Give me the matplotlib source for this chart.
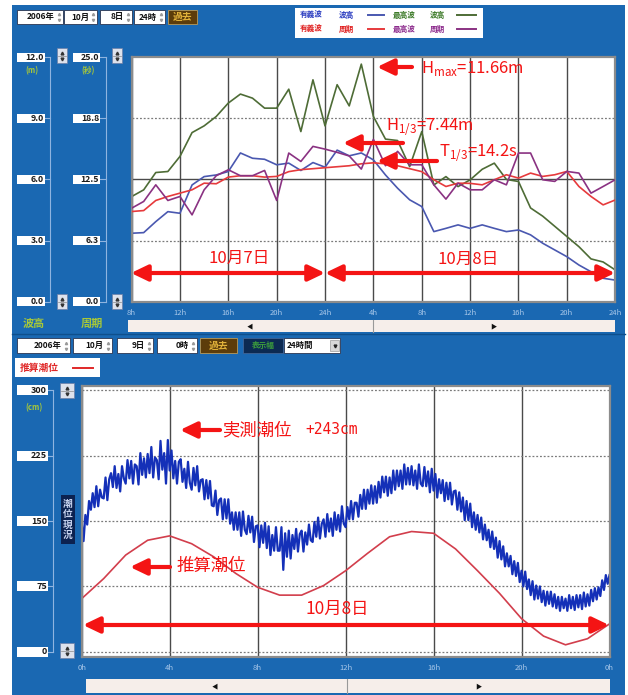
import numpy as np
import matplotlib
matplotlib.use("Agg")
import matplotlib.pyplot as plt
import matplotlib.transforms as mtransforms
from matplotlib.patches import Rectangle, FancyArrowPatch
from matplotlib.lines import Line2D

plt.rcParams['font.family'] = ['Noto Sans CJK JP', 'DejaVu Sans']

# ---------------- wave record: hourly, 10/7 08h -> 10/8 24h ----------------
wave_hours = list(range(41))
wave_tick_hours = list(range(0, 41, 4))
wave_tick_labels = ["8h", "12h", "16h", "20h", "24h", "4h", "8h", "12h", "16h", "20h", "24h"]

# maximum wave height (m)
h_max = [5.16, 5.49, 6.34, 6.39, 7.13, 8.30, 8.63, 9.09, 9.75, 10.19,
         9.99, 9.50, 9.50, 10.43, 8.35, 10.89, 8.63, 10.65, 9.61, 11.66,
         9.09, 7.98, 7.91, 6.63, 8.35, 5.73, 6.14, 5.65, 5.98, 6.50,
         6.80, 6.00, 5.90, 4.60, 4.20, 3.70, 3.20, 2.70, 2.10, 1.95, 1.56]
# significant wave height (m)
h_sig = [3.36, 3.39, 3.93, 4.42, 4.34, 5.73, 6.14, 6.22, 6.39, 7.30,
         7.04, 6.99, 6.72, 6.80, 6.44, 6.83, 6.60, 7.44, 7.16, 7.30,
         6.96, 6.22, 5.57, 5.00, 4.67, 3.44, 3.60, 3.77, 3.60, 3.77,
         3.60, 3.44, 3.52, 3.28, 2.87, 2.54, 2.21, 1.80, 1.47, 1.15, 1.06]
# significant wave period (s)
t_sig = [9.22, 9.32, 10.35, 10.76, 11.10, 11.44, 12.12, 12.06, 12.74, 12.88,
         12.88, 12.74, 12.81, 13.30, 13.50, 13.60, 13.70, 13.80, 13.90, 14.10,
         14.20, 14.10, 13.90, 13.60, 13.30, 12.47, 11.78, 12.12, 12.10, 11.95,
         12.47, 12.98, 12.64, 13.15, 12.81, 12.98, 13.32, 11.78, 10.76, 9.90, 10.40]
# period of the maximum wave (s)
t_max = [9.56, 10.25, 11.95, 10.35, 10.76, 8.88, 11.44, 12.88, 13.49, 12.88,
         12.88, 13.42, 10.35, 15.20, 14.34, 15.88, 15.60, 15.27, 14.90, 13.56,
         16.60, 13.90, 15.37, 14.00, 14.00, 11.95, 10.49, 12.12, 11.44, 11.44,
         12.47, 11.95, 15.20, 15.20, 12.47, 12.30, 13.32, 13.15, 11.10, 11.78, 12.47]

height_ticks = [0, 3, 6, 9, 12]
height_labels = ["0.0", "3.0", "6.0", "9.0", "12.0"]
period_ticks = [0, 6.25, 12.5, 18.75, 25]
period_labels = ["0.0", "6.3", "12.5", "18.8", "25.0"]

# ---------------- tide record, 10/8 ----------------
tide_hours = list(range(25))
tide_predicted = [61, 84, 111, 128, 133, 124, 109, 90, 74, 65, 65, 76, 93,
                  113, 132, 138, 136, 118, 93, 67, 38, 18, 8, 15, 32]
obs_step_minutes = 5
tide_observed = [
    148, 127, 157, 146, 173, 163, 182, 166, 190, 167, 186, 177,
    176, 200, 174, 198, 205, 189, 213, 188, 204, 184, 213, 199,
    193, 220, 199, 219, 193, 215, 213, 192, 228, 203, 222, 200,
    227, 205, 235, 200, 223, 220, 198, 242, 209, 228, 193, 243,
    208, 231, 199, 219, 193, 218, 221, 195, 210, 188, 218, 194,
    186, 211, 191, 213, 184, 197, 198, 175, 197, 176, 196, 168,
    167, 185, 157, 174, 176, 152, 175, 153, 175, 147, 160, 140,
    160, 140, 160, 133, 161, 140, 135, 156, 137, 155, 126, 144,
    145, 120, 145, 125, 148, 119, 144, 111, 134, 116, 143, 116,
    116, 143, 94, 136, 109, 139, 107, 134, 118, 141, 115, 135,
    139, 115, 137, 123, 146, 128, 126, 149, 132, 154, 130, 147,
    152, 132, 158, 138, 153, 133, 160, 140, 157, 138, 167, 147,
    143, 166, 152, 173, 152, 171, 171, 155, 180, 164, 186, 164,
    186, 170, 191, 170, 190, 171, 195, 177, 201, 183, 201, 179,
    200, 182, 208, 186, 208, 190, 208, 187, 215, 192, 211, 192,
    213, 191, 208, 187, 215, 193, 190, 212, 190, 207, 183, 210,
    185, 204, 177, 198, 182, 197, 173, 194, 175, 194, 169, 184,
    185, 163, 183, 161, 177, 151, 173, 151, 170, 143, 160, 140,
    157, 137, 154, 129, 146, 128, 140, 120, 138, 118, 131, 108,
    127, 106, 121, 98, 113, 98, 110, 89, 104, 87, 102, 80,
    93, 75, 92, 72, 83, 65, 81, 60, 76, 61, 75, 57,
    70, 53, 69, 55, 69, 52, 66, 50, 63, 47, 63, 50,
    61, 47, 65, 50, 63, 48, 65, 51, 65, 49, 68, 52,
    66, 53, 71, 58, 73, 60, 74, 64, 82, 71, 88, 78,
    88]
tide_tick_hours = [0, 4, 8, 12, 16, 20, 24]
tide_tick_labels = ["0h", "4h", "8h", "12h", "16h", "20h", "0h"]
level_ticks = [0, 75, 150, 225, 300]
level_labels = ["0", "75", "150", "225", "300"]

# ---------------- styling ----------------
W, H = 628, 695
PANEL = '#1a68b2'
TICKC = '#a9c8ea'
RED = '#f41414'
C_HSIG, C_HMAX, C_TSIG, C_TMAX = '#4a58b0', '#4e6c36', '#e63a3c', '#8a3282'
FIELD_TXT = '#111111'

fig = plt.figure(figsize=(W / 100, H / 100), dpi=100)
fig.patch.set_facecolor('white')
PX = mtransforms.Affine2D().scale(1.0 / W, -1.0 / H).translate(0, 1) + fig.transFigure


def box(x0, y0, x1, y1, fc, ec='none', lw=0.0, z=-1):
    fig.add_artist(Rectangle((x0, y0), x1 - x0, y1 - y0, transform=PX,
                             fc=fc, ec=ec, lw=lw, zorder=z))


def label(x, y, s, **kw):
    kw.setdefault('va', 'center')
    kw.setdefault('zorder', 5)
    return fig.text(x, y, s, transform=PX, **kw)


def seg(xs, ys, z=2, **kw):
    fig.add_artist(Line2D(xs, ys, transform=PX, zorder=z, **kw))


def arrow(x0, y0, x1, y1, both=False):
    style = '<|-|>' if both else '-|>'
    fig.add_artist(FancyArrowPatch(
        (x0, y0), (x1, y1), transform=PX,
        arrowstyle=f'{style},head_length=0.5,head_width=0.24',
        mutation_scale=20, lw=3, color=RED, shrinkA=0, shrinkB=0, zorder=10))


def spin(x0, y0, x1, y1):
    box(x0, y0, x1, y1, fc='#dde2ec', ec='#6d7fa6', lw=0.5, z=1)
    xm = (x0 + x1) / 2
    seg([xm], [y0 + (y1 - y0) * 0.3], z=3, marker='^', ms=2.0, color='#333', ls='none')
    seg([xm], [y0 + (y1 - y0) * 0.72], z=3, marker='v', ms=2.0, color='#333', ls='none')
    seg([x0 + 1, x1 - 1], [(y0 + y1) / 2] * 2, z=3, color='#8a8a8a', lw=0.5)


def field(x0, x1, y0, y1, s):
    box(x0, y0, x1, y1, fc='white', ec='#2a3550', lw=0.6, z=1)
    label(x1 - 8, (y0 + y1) / 2, s, ha='right', fontsize=6, fontweight='bold', color=FIELD_TXT)
    xm = x1 - 4
    seg([xm], [y0 + (y1 - y0) * 0.3], z=3, marker='^', ms=1.6, color='#999', ls='none')
    seg([xm], [y0 + (y1 - y0) * 0.72], z=3, marker='v', ms=1.6, color='#999', ls='none')


def button(x0, x1, y0, y1, s):
    box(x0, y0, x1, y1, fc='#5c3c0a', ec='#b89a5a', lw=0.6, z=1)
    label((x0 + x1) / 2, (y0 + y1) / 2, s, ha='center', fontsize=7,
          fontweight='bold', color='#e2b23a')


# panel backgrounds
box(12, 5, 625, 334, fc=PANEL)
box(12, 334, 625, 695, fc=PANEL)
seg([12, 625], [334, 334], z=-0.5, color='#0f4f8c', lw=1.0)

# ---------------- upper panel: waves ----------------
field(17, 63, 10, 24, "2006年")
field(64, 97, 10, 24, "10月")
field(100, 132, 10, 24, "8日")
field(134, 165, 10, 24, "24時")
button(168, 197, 10, 24, "過去")

# legend
box(295, 8, 483, 38, fc='white', z=1)
legend_rows = [
    (15, "有義波", "波高", C_HSIG, '#2a3cc0', "最高波", "波高", C_HMAX, '#3c7a28'),
    (29, "有義波", "周期", C_TSIG, '#e02020', "最高波", "周期", C_TMAX, '#8c2a8c'),
]
for y, a1, a2, lc1, tc1, b1, b2, lc2, tc2 in legend_rows:
    label(300, y, a1, fontsize=5.5, fontweight='bold', color=tc1)
    label(339, y, a2, fontsize=5.5, fontweight='bold', color=tc1)
    seg([368, 384], [y, y], z=3, color=lc1, lw=1.4)
    label(393, y, b1, fontsize=5.5, fontweight='bold', color=tc2)
    label(430, y, b2, fontsize=5.5, fontweight='bold', color=tc2)
    seg([457, 476], [y, y], z=3, color=lc2, lw=1.4)

ax_w = fig.add_axes([131.6 / W, 1 - 301.7 / H, (615.2 - 131.6) / W, (301.7 - 57.2) / H])
ax_w.set_facecolor('white')
ax_w.set_xlim(0, 40)
ax_w.set_ylim(0, 12)
ax_w.set_xticks(wave_tick_hours, wave_tick_labels)
ax_w.set_yticks([])
ax_w.tick_params(axis='x', length=0, pad=5, labelsize=5.5, labelcolor=TICKC)
ax_w.grid(axis='x', color='#4a4a4a', lw=1.0)
ax_w.axhline(6, color='#4a4a4a', lw=1.0)
for v in (3, 9):
    ax_w.axhline(v, color='#7a7a7a', lw=0.9, ls=(0, (1.5, 1.5)))
for s in ax_w.spines.values():
    s.set_color('#8c8c8c')
    s.set_linewidth(1.6)

ax_w.plot(wave_hours, h_sig, color=C_HSIG, lw=1.2)
ax_w.plot(wave_hours, h_max, color=C_HMAX, lw=1.2)
ax_p = ax_w.twinx()
ax_p.set_ylim(0, 25)
ax_p.set_yticks([])
for s in ax_p.spines.values():
    s.set_visible(False)
ax_p.plot(wave_hours, t_sig, color=C_TSIG, lw=1.2)
ax_p.plot(wave_hours, t_max, color=C_TMAX, lw=1.2)

# left scales (height / period)
def ypix(ax, v):
    return H - ax.transData.transform((0, v))[1]

for ax, ticks, labels, bx0, bx1, lx in ((ax_w, height_ticks, height_labels, 17, 45, 50),
                                        (ax_p, period_ticks, period_labels, 73, 100, 106)):
    seg([lx, lx], [ypix(ax, ticks[0]), ypix(ax, ticks[-1])], z=0, color='#8fb4e0', lw=0.8)
    for v, s in zip(ticks, labels):
        y = ypix(ax, v)
        box(bx0, y - 4.5, bx1, y + 4.5, fc='white', z=1)
        label(bx1 - 1, y, s, ha='right', fontsize=6.3, fontweight='bold', color='#1a1a1a')
        seg([bx1, lx], [y, y], z=0, color='#8fb4e0', lw=0.8)
label(32, 71, "(m)", ha='center', fontsize=5.5, fontweight='bold', color='#a8c838')
label(88, 71, "(秒)", ha='center', fontsize=5.5, fontweight='bold', color='#a8c838')
spin(57, 48, 67, 63)
spin(112, 48, 122, 63)
spin(57, 294, 67, 309)
spin(112, 294, 122, 309)
label(34, 323, "波高", ha='center', fontsize=8, fontweight='bold', color='#a8c838')
label(92, 323, "周期", ha='center', fontsize=8, fontweight='bold', color='#a8c838')

# scroll bar
box(128, 320, 615, 332, fc='#f6eeea', z=1)
seg([373, 373], [320, 332], z=2, color='#999999', lw=0.8)
label(250, 326, "◀", ha='center', fontsize=4.5, color='#111')
label(493, 326, "▶", ha='center', fontsize=4.5, color='#111')

# annotations
arrow(412, 67, 377, 67)
label(421, 68, r"H$_{\mathregular{max}}$=11.66m", fontsize=12, color=RED)
arrow(403, 143, 343, 143)
label(386, 127, r"H$_{\mathregular{1/3}}$=7.44m", fontsize=12, color=RED)
arrow(437, 161, 377, 161)
label(439, 153, r"T$_{\mathregular{1/3}}$=14.2s", fontsize=12, color=RED)
arrow(131, 273, 325, 273, both=True)
arrow(325, 273, 615, 273, both=True)
label(239, 258, "10月7日", ha='center', fontsize=12, color=RED)
label(468, 259, "10月8日", ha='center', fontsize=12, color=RED)

# ---------------- lower panel: tide ----------------
field(17, 70, 338, 353, "2006年")
field(73, 112, 338, 353, "10月")
field(117, 153, 338, 353, "9日")
field(157, 197, 338, 353, "0時")
button(200, 237, 338, 353, "過去")
box(243, 338, 283, 353, fc='#0c2a52', ec='#4a6a9a', lw=0.5, z=1)
label(263, 345.5, "表示幅", ha='center', fontsize=5.5, fontweight='bold', color='#3c9c3c')
box(284, 338, 340, 353, fc='white', ec='#2a3550', lw=0.6, z=1)
label(287, 345.5, "24時間", fontsize=6, fontweight='bold', color=FIELD_TXT)
box(330, 340, 339, 351, fc='#d8d8d8', ec='#888', lw=0.4, z=2)
seg([334.5], [345.5], z=3, marker='v', ms=2.0, color='#222', ls='none')

box(15, 358, 100, 377, fc='white', z=1)
label(20, 367.5, "推算潮位", fontsize=7, fontweight='bold', color='#e02828')
seg([73, 93], [367.5, 367.5], z=3, color='#e02828', lw=1.4)

ax_t = fig.add_axes([81.7 / W, 1 - 657 / H, (609.5 - 81.7) / W, (657 - 386) / H])
ax_t.set_facecolor('white')
ax_t.set_xlim(0, 24)
ax_t.set_ylim(-6, 305)
ax_t.set_xticks(tide_tick_hours, tide_tick_labels)
ax_t.set_yticks([])
ax_t.tick_params(axis='x', length=0, pad=5, labelsize=5.5, labelcolor=TICKC)
ax_t.grid(axis='x', color='#4a4a4a', lw=1.0)
for v in level_ticks:
    ax_t.axhline(v, color='#7a7a7a', lw=0.9, ls=(0, (1.5, 1.5)))
for s in ax_t.spines.values():
    s.set_color('#8c8c8c')
    s.set_linewidth(1.6)

obs_hours = np.arange(len(tide_observed)) * obs_step_minutes / 60.0
ax_t.plot(tide_hours, tide_predicted, color='#d23e4c', lw=1.2)
ax_t.plot(obs_hours, tide_observed, color='#1430b8', lw=1.6)

seg([53, 53], [ypix(ax_t, 0), ypix(ax_t, 300)], z=0, color='#8fb4e0', lw=0.8)
for v, s in zip(level_ticks, level_labels):
    y = ypix(ax_t, v)
    box(17, y - 5, 48, y + 5, fc='white', z=1)
    label(47, y, s, ha='right', fontsize=6.5, fontweight='bold', color='#1a1a1a')
    seg([48, 53], [y, y], z=0, color='#8fb4e0', lw=0.8)
label(34, 408, "(cm)", ha='center', fontsize=5.5, fontweight='bold', color='#a8c838')
spin(60, 383, 74, 398)
spin(60, 643, 74, 658)
box(61, 495, 75, 544, fc='#0c2250', z=1)
label(68, 519.5, "\n".join("潮位現況"), ha='center', fontsize=7, linespacing=1.05,
      fontweight='bold', color='#c8d4f0')

box(86, 679, 610, 693, fc='#f6eeea', z=1)
seg([347, 347], [679, 693], z=2, color='#999999', lw=0.8)
label(215, 686, "◀", ha='center', fontsize=4.5, color='#111')
label(478, 686, "▶", ha='center', fontsize=4.5, color='#111')

arrow(220, 430, 180, 430)
label(222, 430, "実測潮位", fontsize=12.5, color=RED)
label(305, 430, "+243cm", fontsize=10.5, family='DejaVu Sans Mono', color=RED)
arrow(170, 567, 130, 567)
label(177, 566, "推算潮位", fontsize=12.5, color=RED)
arrow(83, 625, 609, 625, both=True)
label(337, 609, "10月8日", ha='center', fontsize=12.5, color=RED)

fig.savefig("out.png", dpi=100, facecolor=fig.get_facecolor())
